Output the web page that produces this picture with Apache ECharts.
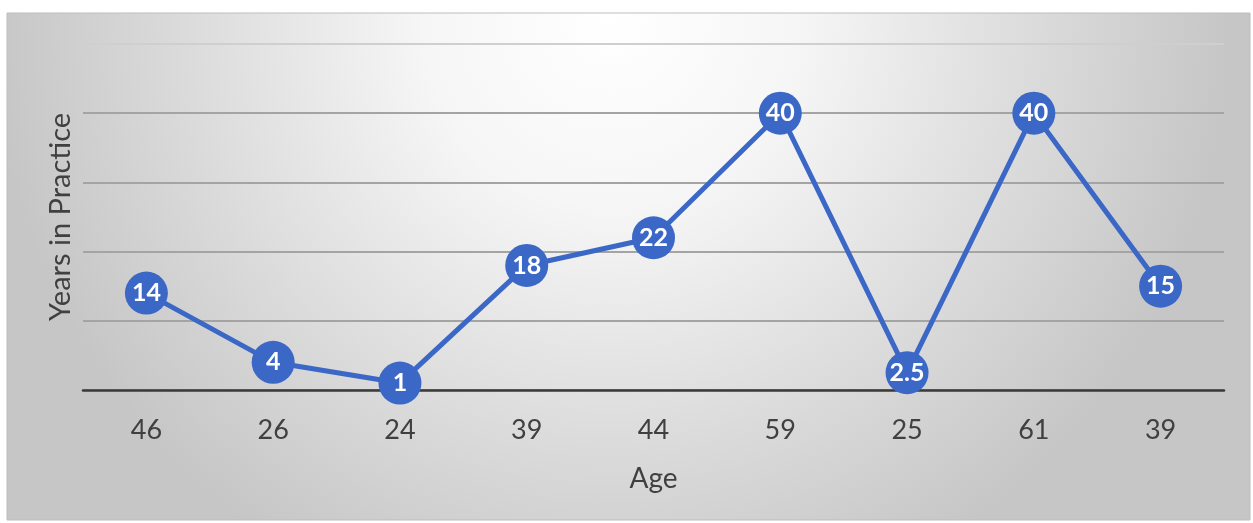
<!DOCTYPE html>
<html>
<head>
<meta charset="utf-8">
<script src="https://cdn.jsdelivr.net/npm/echarts@6/dist/echarts.min.js"></script>
<style>
html,body{margin:0;padding:0;background:#ffffff;}
#chart{width:1253px;height:523px;}
</style>
</head>
<body>
<div id="chart"></div>
<script>
const ageLabels = ['46', '26', '24', '39', '44', '59', '25', '61', '39'];
const yearsInPractice = [14, 4, 1, 18, 22, 40, 2.5, 40, 15];
const xAxisTitle = 'Age';
const yAxisTitle = 'Years in Practice';
const yTicks = [0, 10, 20, 30, 40, 50];

const chart = echarts.init(document.getElementById('chart'), null, {renderer: 'canvas'});
chart.setOption({
  backgroundColor: '#ffffff',
  animation: false,
  graphic: [{
    type: 'rect',
    z: -10,
    silent: true,
    shape: {x: 7, y: 13, width: 1243, height: 507},
    style: {
      fill: {
        type: 'radial', x: 610, y: 20, r: 620, global: true,
        colorStops: [
          {offset: 0, color: '#ffffff'},
          {offset: 0.3, color: '#f6f6f6'},
          {offset: 0.7, color: '#dadada'},
          {offset: 1, color: '#c6c6c6'}
        ]
      },
      stroke: '#bdbdbd',
      lineWidth: 1
    }
  }],
  grid: {left: 83, right: 29, top: 44, bottom: 133, containLabel: false},
  xAxis: {
    type: 'category',
    data: ageLabels,
    boundaryGap: true,
    name: xAxisTitle,
    nameLocation: 'middle',
    nameGap: 75,
    nameTextStyle: {fontFamily: 'Lato', fontSize: 28, color: '#404040'},
    axisLine: {show: true, lineStyle: {color: '#3a3a3a', width: 2.5}},
    axisTick: {show: false},
    axisLabel: {fontFamily: 'Lato', fontSize: 27, color: '#404040', margin: 27}
  },
  yAxis: {
    type: 'value',
    min: yTicks[0],
    max: yTicks[yTicks.length - 1],
    interval: 10,
    name: yAxisTitle,
    nameLocation: 'middle',
    nameGap: 8,
    nameRotate: 90,
    nameTextStyle: {fontFamily: 'Lato', fontSize: 29, color: '#404040'},
    axisLine: {show: false},
    axisTick: {show: false},
    axisLabel: {show: false},
    splitLine: {show: true, lineStyle: {color: ['#a4a4a4', '#a4a4a4', '#a4a4a4', '#a4a4a4', '#a4a4a4', '#cfcfcf'], width: 2}}
  },
  series: [{
    type: 'line',
    data: yearsInPractice,
    symbol: 'circle',
    symbolSize: 43,
    lineStyle: {color: '#3b67c6', width: 5},
    itemStyle: {color: '#3b67c6'},
    label: {
      show: true,
      position: 'inside',
      color: '#ffffff',
      fontFamily: 'Lato',
      fontWeight: 'bold',
      fontSize: 25
    },
    z: 5
  }]
});
</script>
</body>
</html>
